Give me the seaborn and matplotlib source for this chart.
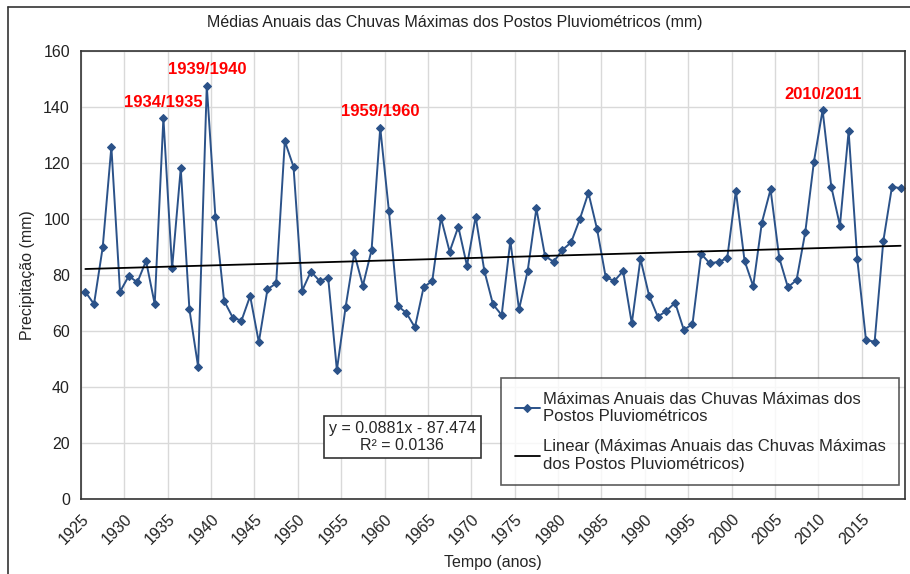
import numpy as np
import pandas as pd
import matplotlib.pyplot as plt
import seaborn as sns
from matplotlib.lines import Line2D

# anos hidrológicos (1925/1926 ... 2019/2020)
anos = list(range(1925, 2020))
maximas = [
    74.0, 69.6, 89.8, 125.7, 74.0, 79.6, 77.4, 85.0, 69.6, 136.0,
    82.3, 118.0, 67.7, 47.3, 147.5, 100.5, 70.7, 64.8, 63.7, 72.5,
    56.0, 74.9, 77.0, 127.7, 118.6, 74.4, 81.2, 77.9, 78.9, 46.1,
    68.4, 87.7, 76.2, 88.9, 132.5, 102.8, 69.0, 66.5, 61.3, 75.6,
    77.9, 100.4, 88.3, 97.2, 83.3, 100.8, 81.5, 69.5, 65.7, 92.2,
    67.7, 81.5, 103.7, 86.7, 84.7, 88.9, 91.6, 99.8, 109.3, 96.3,
    79.1, 77.9, 81.4, 62.7, 85.7, 72.6, 65.1, 67.2, 70.1, 60.4,
    62.5, 87.5, 84.1, 84.7, 85.9, 110.0, 85.1, 76.0, 98.7, 110.5,
    86.1, 75.6, 78.2, 95.2, 120.4, 138.8, 111.5, 97.6, 131.3, 85.6,
    56.8, 56.2, 92.1, 111.5, 110.9,
]

# tendência linear (Excel)
inclinacao = 0.0881
intercepto = -87.474
r2 = 0.0136

destaques = ["1934/1935", "1939/1940", "1959/1960", "2010/2011"]
destaque_anos = [1934, 1939, 1959, 2010]

df = pd.DataFrame({"ano": anos, "max": maximas})
df["x"] = df["ano"] + 0.5  # ponto no centro da categoria
df["tendencia"] = inclinacao * df["ano"] + intercepto

sns.set_style("white")
plt.rcParams["font.family"] = ["Liberation Sans", "DejaVu Sans"]

fig = plt.figure(figsize=(9.1, 5.74), dpi=100)
ax = fig.add_axes([81 / 910, 1 - 499.3 / 574, 824 / 910, 448.7 / 574])

azul = "#2B5289"
sns.lineplot(data=df, x="x", y="max", ax=ax, color=azul, marker="D",
             markersize=3.8, markeredgecolor=azul, linewidth=1.4,
             label="Máximas Anuais das Chuvas Máximas dos\nPostos Pluviométricos")
sns.lineplot(data=df, x="x", y="tendencia", ax=ax, color="black", linewidth=1.3,
             label="Linear (Máximas Anuais das Chuvas Máximas\ndos Postos Pluviométricos)")

for txt, a in zip(destaques, destaque_anos):
    v = df.loc[df["ano"] == a, "max"].values[0]
    ax.annotate(txt, xy=(a + 0.5, v), xytext=(0, 6), textcoords="offset points",
                ha="center", va="bottom", color="red", fontsize=12, fontweight="bold")

ax.set_xlim(1925, 2020)
ax.set_ylim(0, 160)
ax.set_xticks(np.arange(1925, 2020, 5))
ax.set_yticks(np.arange(0, 161, 20))
ax.tick_params(axis="both", length=0, labelsize=11.5, colors="#222222")
ax.tick_params(axis="y", pad=8)
ax.tick_params(axis="x", pad=9)
for lab in ax.get_xticklabels():
    lab.set_rotation(45)
    lab.set_ha("right")
    lab.set_rotation_mode("anchor")

ax.grid(True, color="#D9D9D9", linewidth=1)
for s in ax.spines.values():
    s.set_color("#333333")
    s.set_linewidth(1.2)

ax.set_xlabel("Tempo (anos)", fontsize=11.5)
ax.xaxis.set_label_coords(0.5, -0.124)
ax.set_ylabel("Precipitação (mm)", fontsize=11.5, labelpad=6)
fig.suptitle("Médias Anuais das Chuvas Máximas dos Postos Pluviométricos (mm)",
             fontsize=11.5, y=1 - 22 / 574, va="center", color="#222222")

leg = ax.legend(loc="lower right", bbox_to_anchor=(0.993, 0.032), borderaxespad=0,
                prop={"size": 12}, frameon=True, fancybox=False, handlelength=1.5,
                handletextpad=0.2, labelspacing=0.9, borderpad=0.8)
leg.get_frame().set_edgecolor("#333333")
leg.get_frame().set_linewidth(1.2)

ax.text(0.39, 0.139, f"y = {inclinacao}x - {abs(intercepto)}\nR² = {r2}",
        transform=ax.transAxes, ha="center", va="center", fontsize=11.5,
        multialignment="center",
        bbox=dict(boxstyle="square,pad=0.3", facecolor="white", edgecolor="#333333",
                  linewidth=1.2))

# moldura da área do gráfico
fig.add_artist(Line2D([8 / 910, 8 / 910], [0, 1 - 7 / 574], color="#333333",
                      linewidth=1.2, transform=fig.transFigure))
fig.add_artist(Line2D([8 / 910, 1], [1 - 7 / 574, 1 - 7 / 574], color="#333333",
                      linewidth=1.2, transform=fig.transFigure))

fig.savefig("out.png", dpi=100)
